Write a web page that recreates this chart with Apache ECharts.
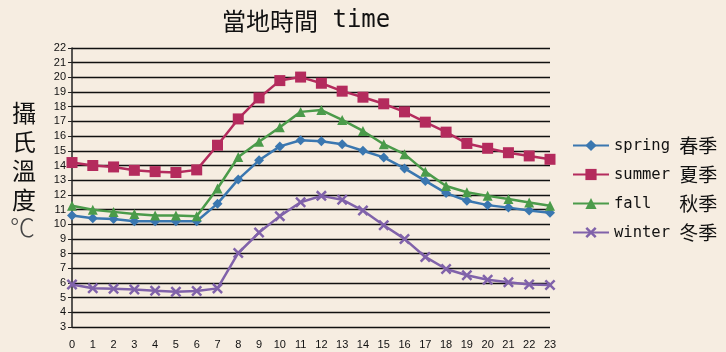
<!DOCTYPE html>
<html><head><meta charset="utf-8">
<script src="https://cdn.jsdelivr.net/npm/echarts@6/dist/echarts.min.js"></script>
<style>html,body{margin:0;padding:0;background:#F6EDE1;}#c{width:726px;height:352px;}</style>
</head><body><div id="c"></div>
<script>
const hours = ['0','1','2','3','4','5','6','7','8','9','10','11','12','13','14','15','16','17','18','19','20','21','22','23'];
const seriesLatin = ['spring', 'summer', 'fall  ', 'winter'];
const seriesCjk = ['春季', '夏季', '秋季', '冬季'];
const spring = [10.6, 10.4, 10.35, 10.2, 10.2, 10.2, 10.2, 11.4, 13.05, 14.35, 15.3, 15.72, 15.65, 15.45, 15.0, 14.55, 13.8, 12.95, 12.12, 11.6, 11.3, 11.13, 10.93, 10.78];
const summer = [14.2, 14.0, 13.9, 13.67, 13.58, 13.52, 13.7, 15.38, 17.17, 18.6, 19.78, 20.02, 19.6, 19.06, 18.65, 18.2, 17.65, 16.95, 16.27, 15.5, 15.17, 14.87, 14.65, 14.42];
const fall = [11.26, 10.98, 10.84, 10.7, 10.6, 10.6, 10.55, 12.43, 14.58, 15.62, 16.6, 17.65, 17.77, 17.1, 16.35, 15.45, 14.77, 13.58, 12.6, 12.18, 11.93, 11.71, 11.48, 11.25];
const winter = [5.89, 5.64, 5.6, 5.56, 5.47, 5.4, 5.45, 5.63, 8.04, 9.43, 10.55, 11.5, 11.93, 11.67, 10.93, 9.93, 9.0, 7.77, 6.95, 6.52, 6.22, 6.04, 5.9, 5.86];
const yTicks = {min: 3, max: 22, step: 1};
const titleText = '當地時間 time';
const yName = '攝氏溫度';
const unit = '℃';

const colors = ['#3A77B0', '#B42B5D', '#4B9B4A', '#8062AA'];
const symbols = ['diamond', 'rect', 'triangle',
  'path://M0,1.6 L1.6,0 L5,3.4 L8.4,0 L10,1.6 L6.6,5 L10,8.4 L8.4,10 L5,6.6 L1.6,10 L0,8.4 L3.4,5 Z'];
const symSizes = [10, 11, 10, 11];
const values = [spring, summer, fall, winter];
const names = seriesLatin.map((l, i) => l + ' ' + seriesCjk[i]);

const chart = echarts.init(document.getElementById('c'));
const mono = "'DejaVu Sans Mono', monospace";
const cjk = "'Noto Sans CJK TC', sans-serif";
const tickFont = "'Liberation Sans Narrow', 'Liberation Sans', sans-serif";

chart.setOption({
  backgroundColor: '#F6EDE1',
  animation: false,
  graphic: [
    {type: 'text', left: 222, top: 9, style: {
      rich: {a: {fontFamily: cjk, fontSize: 24, fill: '#111'}, b: {fontFamily: mono, fontSize: 24, fill: '#111'}},
      text: '{a|' + titleText.split(' ')[0] + '}{b| ' + titleText.split(' ')[1] + '}'}},
    {type: 'text', left: 12, top: 98, style: {text: yName.split('').join('\n'), fontFamily: cjk, fontSize: 24, lineHeight: 29, fill: '#111'}},
    {type: 'text', left: 10, top: 215, style: {text: unit, fontFamily: cjk, fontSize: 25, fill: '#444', fontWeight: 300}}
  ],
  legend: {
    orient: 'vertical', left: 567, top: 131, itemWidth: 36, itemHeight: 14, itemGap: 10,
    data: names,
    formatter: function (n) { const i = names.indexOf(n); return '{a|' + seriesLatin[i] + ' }{b|' + seriesCjk[i] + '}'; },
    textStyle: {rich: {a: {fontFamily: mono, fontSize: 15.5, color: '#111'}, b: {fontFamily: cjk, fontSize: 19, color: '#111'}}}
  },
  grid: {left: 72, right: 176, top: 48, bottom: 25, containLabel: false},
  xAxis: {
    type: 'category', data: hours, boundaryGap: false,
    axisLine: {show: false}, axisTick: {show: false},
    axisLabel: {margin: 12, fontFamily: tickFont, fontSize: 11, color: '#111', interval: 0}
  },
  yAxis: {
    type: 'value', min: yTicks.min, max: yTicks.max, interval: yTicks.step,
    axisLine: {show: true, lineStyle: {color: '#222', width: 1.5}},
    axisTick: {show: true, length: 4, lineStyle: {color: '#222'}},
    axisLabel: {margin: 6, fontFamily: tickFont, fontSize: 11, color: '#111'},
    splitLine: {lineStyle: {color: '#111', width: 1.3}}
  },
  series: values.map((v, i) => ({
    name: names[i], type: 'line', data: v,
    symbol: symbols[i], symbolSize: symSizes[i], showSymbol: true,
    lineStyle: {color: colors[i], width: 2.5},
    itemStyle: {color: colors[i]},
    z: 2 + i
  }))
});
</script></body></html>
